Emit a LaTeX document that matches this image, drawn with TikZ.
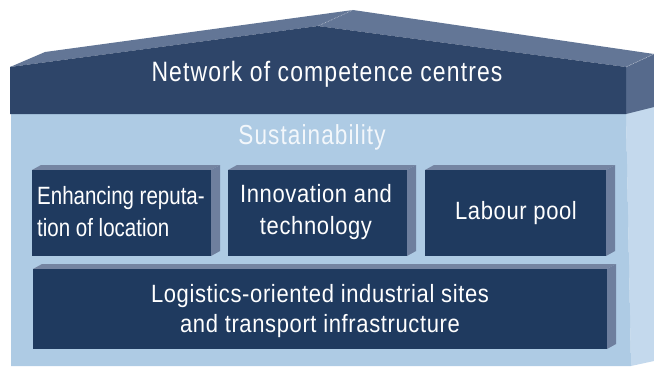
\documentclass[tikz,border=0pt]{standalone}
\usepackage{fontspec}
\setmainfont{Liberation Sans}
\newfontfamily\condA{Liberation Sans}[FakeStretch=0.82]
\newfontfamily\condAsp{Liberation Sans}[FakeStretch=0.82, LetterSpace=4]
\newfontfamily\condB{Liberation Sans}[FakeStretch=0.88, LetterSpace=2.5]
\definecolor{roofFront}{HTML}{2E4569}
\definecolor{roofTop}{HTML}{637696}
\definecolor{roofSide}{HTML}{566A8C}
\definecolor{bodyFront}{HTML}{AECBE4}
\definecolor{bodySide}{HTML}{C4D9ED}
\definecolor{boxFront}{HTML}{1F3A5F}
\definecolor{boxSide}{HTML}{6E7F9E}
\definecolor{boxTop}{HTML}{7585A2}
\tikzset{
  lbl/.style={text=white, font=\condB\fontsize{25}{32}\selectfont, inner sep=0pt},
}
\newcommand{\boxthreed}[4]{%
  \fill[boxTop] (#1,#2) -- (#1+9,#2-5) -- (#3+9,#2-5) -- (#3,#2) -- cycle;
  \fill[boxSide] (#3,#2) -- (#3+9,#2-5) -- (#3+9,#4-5) -- (#3,#4) -- cycle;
  \fill[boxFront] (#1,#2) rectangle (#3,#4);
}
\begin{document}
\begin{tikzpicture}[x=1pt,y=-1pt]
\useasboundingbox (0,0) rectangle (654,367);
% body
\fill[bodySide] (626,114) -- (654,104) -- (654,361) -- (631,366) -- cycle;
\fill[bodyFront] (11,114) -- (626,114) -- (631,366) -- (11,366) -- cycle;
% roof
\fill[roofTop] (10,67) -- (45,52) -- (353,10) -- (654,54) -- (626,67) -- (318,26) -- cycle;
\fill[roofSide] (626,67) -- (654,54) -- (654,107) -- (626,114) -- cycle;
\fill[roofFront] (10,67) -- (318,26) -- (626,67) -- (626,114) -- (10,114) -- cycle;
\draw[white!60!roofTop, densely dotted, line width=0.6pt] (318,26) -- (353,10);
\draw[white!60!roofTop, densely dotted, line width=0.6pt] (626,67) -- (654,54);
% boxes
\boxthreed{32}{170}{211}{256}
\boxthreed{228}{170}{407}{256}
\boxthreed{425}{170}{606}{256}
\boxthreed{33}{269}{607}{349}
% texts
\node[lbl, font=\condAsp\fontsize{28}{30}\selectfont] (net) at (327,74) {Network of competence centres};
\node[lbl, text=white!85!bodyFront, font=\condAsp\fontsize{27.5}{30}\selectfont] (sus) at (312,137) {Sustainability};
\node[lbl, align=left, anchor=west, font=\condA\fontsize{25}{32}\selectfont] (rep) at (37,212) {Enhancing reputa-\\tion of location};
\node[lbl, align=center] (inn) at (316,212) {Innovation and\\technology};
\node[lbl] (lab) at (516,213) {Labour pool};
\node[lbl, align=center, font=\condB\fontsize{25}{30}\selectfont] (log) at (320,311) {Logistics-oriented industrial sites\\and transport infrastructure};
\end{tikzpicture}
\end{document}
